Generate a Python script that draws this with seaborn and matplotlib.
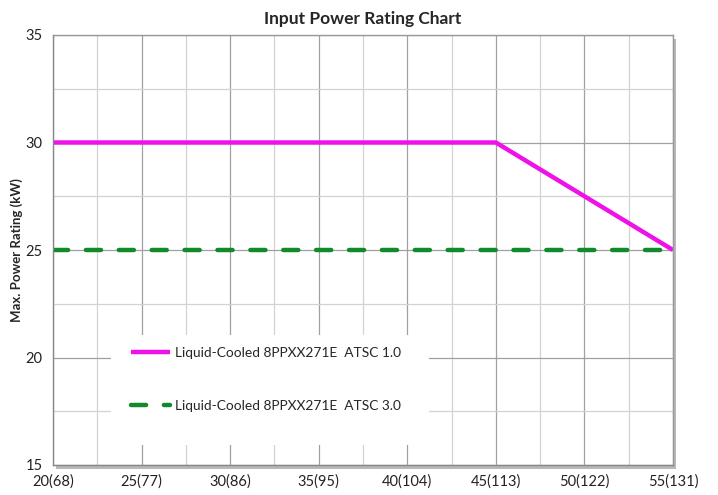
import pandas as pd
import matplotlib.pyplot as plt
import seaborn as sns
from matplotlib.patches import Rectangle
from matplotlib.ticker import MultipleLocator

# chart values
temp_c = [20, 45, 55]
rating_atsc1 = [30, 30, 25]
temp_c_atsc3 = [20, 55]
rating_atsc3 = [25, 25]
tick_pos = [20, 25, 30, 35, 40, 45, 50, 55]
tick_labels = ['20(68)', '25(77)', '30(86)', '35(95)', '40(104)', '45(113)', '50(122)', '55(131)']
label_1 = 'Liquid-Cooled 8PPXX271E  ATSC 1.0'
label_3 = 'Liquid-Cooled 8PPXX271E  ATSC 3.0'

sns.set_style('white')
plt.rcParams['font.family'] = ['Lato', 'DejaVu Sans']

df1 = pd.DataFrame({'temp': temp_c, 'kw': rating_atsc1})
df3 = pd.DataFrame({'temp': temp_c_atsc3, 'kw': rating_atsc3})

fig = plt.figure(figsize=(7.18, 4.95), dpi=100)
W, H = 718, 495
left, right, top, bottom = 53, 673, 35, 465
ax = fig.add_axes([left / W, 1 - bottom / H, (right - left) / W, (bottom - top) / H])

# drop shadow behind plot area
fig.patches.append(Rectangle(((left + 3) / W, 1 - (bottom + 4) / H), (right - left) / W, (bottom - top) / H,
                             transform=fig.transFigure, facecolor='#b8b8b8', edgecolor='none', zorder=-1))

sns.lineplot(data=df1, x='temp', y='kw', ax=ax, color='#ee11e8', linewidth=3.2,
             label=label_1, solid_capstyle='butt')
l3 = sns.lineplot(data=df3, x='temp', y='kw', ax=ax, color='#118a2c', linewidth=3.2,
                  label=label_3).lines[-1]
l3.set_dashes((3.4, 4.0))
l3.set_dash_capstyle('round')

ax.set_xlim(20, 55)
ax.set_ylim(15, 35)
ax.set_xticks(tick_pos)
ax.set_xticklabels(tick_labels)
ax.set_yticks([15, 20, 25, 30, 35])
ax.xaxis.set_minor_locator(MultipleLocator(2.5))
ax.yaxis.set_minor_locator(MultipleLocator(2.5))
ax.set_axisbelow(True)
ax.grid(which='major', color='#a0a0a0', linewidth=0.9)
ax.grid(which='minor', color='#d2d2d2', linewidth=0.9)
ax.tick_params(which='major', length=4, width=0.9, color='#888888', labelsize=10.5, labelcolor='#222222')
ax.tick_params(which='minor', length=0)
ax.tick_params(axis='x', pad=3)
for s in ax.spines.values():
    s.set_color('#999999')
    s.set_linewidth(1.0)
ax.spines['left'].set_color('#888888')
ax.spines['bottom'].set_color('#888888')

# white box behind legend
ax.add_patch(Rectangle((0.094, 0.047), 0.512, 0.255, transform=ax.transAxes,
                       facecolor='white', edgecolor='none', zorder=1.5))
ax.legend(loc='upper left', bbox_to_anchor=(0.125, 0.275), frameon=False, fontsize=9.9,
          handlelength=2.9, handletextpad=0.35, labelspacing=3.0, borderpad=0, borderaxespad=0)

ax.set_title('Input Power Rating Chart', fontsize=12.5, fontweight='bold', pad=8)
ax.set_xlabel('')
ax.set_ylabel('Max. Power Rating (kW)', fontsize=9.5, fontweight='bold', labelpad=2)

fig.savefig('out.png', dpi=100)
